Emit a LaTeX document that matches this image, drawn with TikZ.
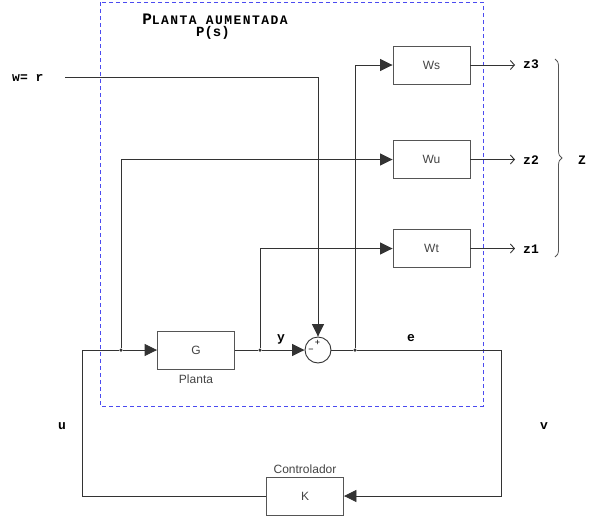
\documentclass[tikz,border=0pt]{standalone}
\usepackage{fontspec}
\setmainfont{Liberation Sans}
\setmonofont{Liberation Mono}
\usetikzlibrary{arrows.meta,decorations.pathreplacing}
\definecolor{linec}{HTML}{333333}
\definecolor{boxc}{HTML}{555555}
\definecolor{dashc}{HTML}{4B4BF0}
\definecolor{txtc}{HTML}{444444}
\begin{document}
\begin{tikzpicture}[x=1pt,y=-1pt,
  blk/.style={draw=boxc, line width=0.9pt, minimum width=77pt, minimum height=38pt, inner sep=0, font=\fontsize{12}{12}\selectfont, text=txtc},
  sig/.style={font=\ttfamily\bfseries\fontsize{13}{13}\selectfont, inner sep=0, text=black},
  wire/.style={draw=linec, line width=0.9pt},
  arr/.style={wire, -{Triangle[length=12.5pt,width=12pt]}},
  oarr/.style={wire, -{Straight Barb[length=4pt,width=9pt]}},
  jdot/.style={circle, fill=linec, inner sep=0, minimum size=3.5pt},
  lbl/.style={font=\fontsize{12}{12}\selectfont, text=txtc, inner sep=0},
  sgn/.style={font=\fontsize{9}{9}\selectfont, text=black, inner sep=0}]
\useasboundingbox (0,0) rectangle (589,515);

% augmented plant frame
\draw[dashc, dash pattern=on 4pt off 3pt, line width=0.8pt] (100,2) rectangle (483,406);
\node[anchor=base, inner sep=0, font=\ttfamily\bfseries] (title) at (215,24)
  {{\fontsize{16}{16}\selectfont P}{\fontsize{13}{13}\selectfont\addfontfeature{LetterSpace=11}LANTA AUMENTADA}};
\node[anchor=base, inner sep=0, font=\ttfamily\bfseries\fontsize{14}{14}\selectfont] (ps) at (213,36.5) {P(s)};

% blocks
\node[blk] (Ws) at (431.5,65) {Ws};
\node[blk] (Wu) at (431.5,159.5) {Wu};
\node[blk] (Wt) at (431.5,248.5) {Wt};
\node[blk] (G) at (196,350) {G};
\node[blk] (K) at (305,496) {K};
\node[lbl, anchor=base] (planta) at (196,383) {Planta};
\node[lbl, anchor=base] (ctrl) at (305,473) {Controlador};

% summing junction
\node[circle, draw=linec, line width=0.9pt, minimum size=26pt, inner sep=0] (sum) at (318,350) {};
\node[sgn] (plus) at (317.5,343) {+};
\node[sgn] (minus) at (311,351) {\textminus};

% junction dots and corners
\node[jdot] (j1) at (121,350) {};
\node[jdot] (j2) at (260,350) {};
\node[jdot] (j3) at (355,350) {};
\coordinate (cu) at (82,350);
\coordinate (cv) at (501,350);
\coordinate (w0) at (65,77);
\coordinate (o3) at (515,65);
\coordinate (o2) at (515,159.5);
\coordinate (o1) at (515,248.5);

% signal labels
\node[sig, anchor=base west] (wlab) at (12,81) {w= r};
\node[sig, anchor=base] (ylab) at (281,341) {y};
\node[sig, anchor=base] (elab) at (411,341) {e};
\node[sig, anchor=base] (ulab) at (62,429) {u};
\node[sig, anchor=base] (vlab) at (544,429) {v};
\node[sig, anchor=base] (z3) at (531,68.5) {z3};
\node[sig, anchor=base] (z2) at (531,164) {z2};
\node[sig, anchor=base] (z1) at (531,253) {z1};
\node[sig, anchor=base] (Z) at (582,164) {Z};

% connectors
\draw[arr] (w0) -| (sum.north);
\draw[wire] (K.west) -| (cu) -- (j1);
\draw[arr] (j1) -- (G.west);
\draw[arr] (j1) |- (Wu.west);
\draw[wire] (G.east) -- (j2);
\draw[arr] (j2) -- (sum.west);
\draw[arr] (j2) |- (Wt.west);
\draw[wire] (sum.east) -- (j3) -- (cv);
\draw[arr] (cv) |- (K.east);
\draw[arr] (j3) |- (Ws.west);
\draw[oarr] (Ws.east) -- (o3);
\draw[oarr] (Wu.east) -- (o2);
\draw[oarr] (Wt.east) -- (o1);

% brace
\draw[boxc, line width=0.8pt, decorate, decoration={brace, amplitude=7pt}] (555,59) -- (555,257);
\end{tikzpicture}
\end{document}
